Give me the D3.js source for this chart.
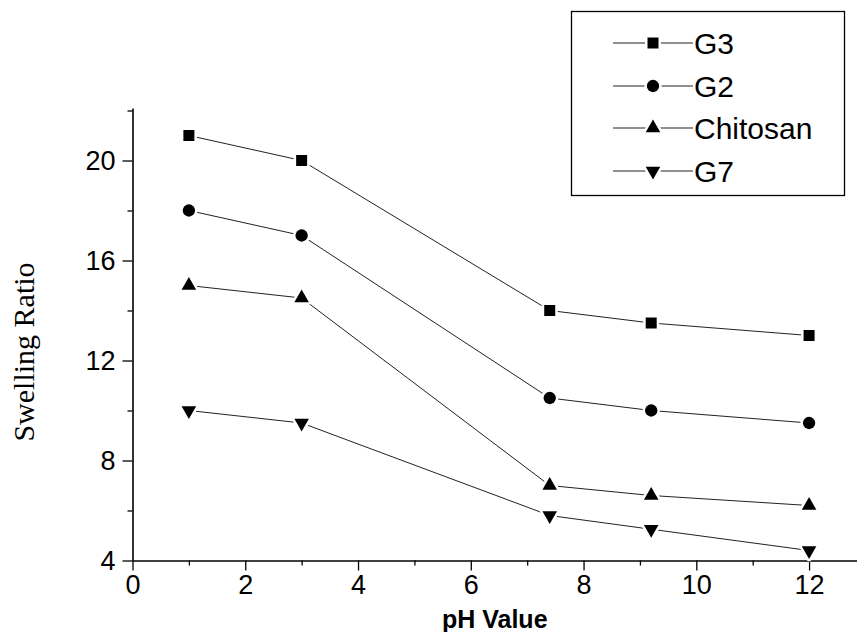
<!DOCTYPE html>
<html>
<head>
<meta charset="utf-8">
<script src="https://cdn.jsdelivr.net/npm/d3@7/dist/d3.min.js"></script>
<style>
  html, body { margin: 0; padding: 0; background: #fff; }
  svg { display: block; }
</style>
</head>
<body>
<svg id="chart" width="857" height="632"></svg>
<script>
// pH values at which swelling was measured
const phValues = [1, 3, 7.4, 9.2, 12];

// Swelling ratio for each sample
const seriesNames = ["G3", "G2", "Chitosan", "G7"];
const g3 = [21, 20, 14, 13.5, 13];
const g2 = [18, 17, 10.5, 10, 9.5];
const chitosan = [15, 14.5, 7, 6.6, 6.2];
const g7 = [10, 9.5, 5.8, 5.25, 4.4];

// Axis ticks
const xMajorTicks = [0, 2, 4, 6, 8, 10, 12];
const xMinorTicks = [1, 3, 5, 7, 9, 11];
const yMajorTicks = [4, 8, 12, 16, 20];
const yMinorTicks = [6, 10, 14, 18, 22];

const seriesValues = [g3, g2, chitosan, g7];
const symbolTypes = [d3.symbolSquare, d3.symbolCircle, d3.symbolTriangle, d3.symbolTriangle];
const symbolSizes = [121, 120, 92, 92];
const symbolRotate = [0, 0, 0, 180];

const svg = d3.select("#chart");

const x = d3.scaleLinear().domain([0, 12.85]).range([132.5, 857]);
const y = d3.scaleLinear().domain([4, 22.1]).range([560.5, 108]);

const fontSans = "'Liberation Sans', Arial, Helvetica, sans-serif";
const fontSerif = "'Liberation Serif', 'Times New Roman', serif";

// ---- axes ----
svg.append("g")
  .attr("transform", `translate(0,${y(4)})`)
  .call(d3.axisBottom(x).tickValues(xMajorTicks).tickSize(10).tickSizeOuter(0).tickPadding(4));
svg.append("g")
  .attr("transform", `translate(0,${y(4)})`)
  .call(d3.axisBottom(x).tickValues(xMinorTicks).tickSize(5).tickSizeOuter(0).tickFormat(""))
  .select(".domain").remove();

svg.append("g")
  .attr("transform", `translate(${x(0)},0)`)
  .call(d3.axisLeft(y).tickValues(yMajorTicks).tickSize(10).tickSizeOuter(0).tickPadding(7));
svg.append("g")
  .attr("transform", `translate(${x(0)},0)`)
  .call(d3.axisLeft(y).tickValues(yMinorTicks).tickSize(5).tickSizeOuter(0).tickFormat(""))
  .select(".domain").remove();

svg.selectAll(".domain").attr("stroke", "#000").attr("stroke-width", 1.6);
svg.selectAll(".tick line").attr("stroke", "#000").attr("stroke-width", 1.3);
svg.selectAll(".tick text")
  .attr("fill", "#000")
  .style("font-family", fontSans)
  .style("font-size", "27px");

// axis titles
svg.append("text")
  .attr("x", (x.range()[0] + x.range()[1]) / 2)
  .attr("y", 628)
  .attr("text-anchor", "middle")
  .style("font-family", fontSans)
  .style("font-weight", "bold")
  .style("font-size", "25px")
  .text("pH Value");

svg.append("text")
  .attr("transform", "translate(34,352) rotate(-90)")
  .attr("text-anchor", "middle")
  .style("font-family", fontSerif)
  .style("font-size", "30px")
  .text("Swelling Ratio");

// ---- series ----
const line = d3.line()
  .x((d, i) => x(phValues[i]))
  .y(d => y(d));

function drawMarker(g, i, cx, cy) {
  const sym = d3.symbol().type(symbolTypes[i]).size(symbolSizes[i]);
  // white halo leaves a small gap between the line and the marker
  g.append("path")
    .attr("d", sym())
    .attr("transform", `translate(${cx},${cy}) rotate(${symbolRotate[i]})`)
    .attr("fill", "#fff")
    .attr("stroke", "#fff")
    .attr("stroke-width", 5)
    .attr("stroke-linejoin", "round");
  g.append("path")
    .attr("d", sym())
    .attr("transform", `translate(${cx},${cy}) rotate(${symbolRotate[i]})`)
    .attr("fill", "#000");
}

seriesValues.forEach((vals, i) => {
  const g = svg.append("g").attr("class", "series");
  g.append("path")
    .datum(vals)
    .attr("d", line)
    .attr("fill", "none")
    .attr("stroke", "#222")
    .attr("stroke-width", 1);
  vals.forEach((v, j) => drawMarker(g, i, x(phValues[j]), y(v)));
});

// ---- legend ----
const legend = svg.append("g");
legend.append("rect")
  .attr("x", 571.5).attr("y", 11.5)
  .attr("width", 273).attr("height", 184)
  .attr("fill", "#fff")
  .attr("stroke", "#000")
  .attr("stroke-width", 1.3);

const rowY = [43, 86, 128, 171];
seriesNames.forEach((name, i) => {
  const g = legend.append("g");
  g.append("line")
    .attr("x1", 613).attr("x2", 693)
    .attr("y1", rowY[i]).attr("y2", rowY[i])
    .attr("stroke", "#222").attr("stroke-width", 1);
  drawMarker(g, i, 653, rowY[i]);
  g.append("text")
    .attr("x", 694)
    .attr("y", rowY[i] + 10.5)
    .style("font-family", fontSans)
    .style("font-size", "30px")
    .text(name);
});
</script>
</body>
</html>
